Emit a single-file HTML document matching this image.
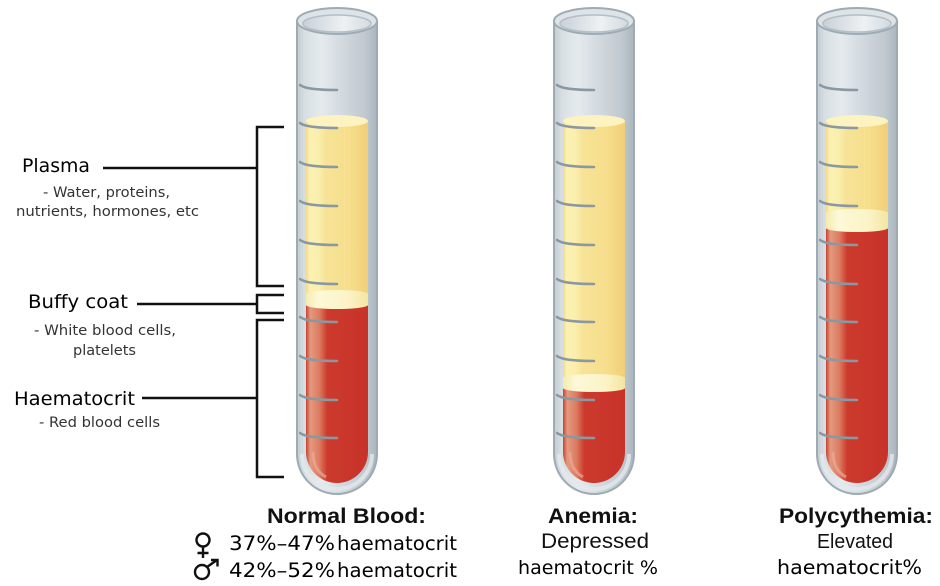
<!DOCTYPE html>
<html>
<head>
<meta charset="utf-8">
<style>
html,body{margin:0;padding:0;background:#fff;}
svg{display:block;}
.lbl{font-family:"DejaVu Sans","Liberation Sans",sans-serif;fill:#000;}
.sub{font-family:"DejaVu Sans","Liberation Sans",sans-serif;fill:#333;font-size:14px;}
.hb{font-family:"Liberation Sans",Arial,sans-serif;font-weight:bold;fill:#111;}
.hr{font-family:"Liberation Sans",Arial,sans-serif;fill:#111;}
</style>
</head>
<body>
<svg width="940" height="586" viewBox="0 0 940 586" xmlns="http://www.w3.org/2000/svg">
<defs>
  <linearGradient id="glass" x1="0" x2="1" y1="0" y2="0">
    <stop offset="0" stop-color="#c3ccd2"/>
    <stop offset="0.1" stop-color="#d8dfe3"/>
    <stop offset="0.3" stop-color="#e5eaed"/>
    <stop offset="0.55" stop-color="#d3dae0"/>
    <stop offset="0.85" stop-color="#c0c9cf"/>
    <stop offset="1" stop-color="#a9b5bd"/>
  </linearGradient>
  <linearGradient id="opening" x1="0" x2="1" y1="0" y2="0">
    <stop offset="0" stop-color="#c9d1d7"/>
    <stop offset="0.6" stop-color="#eef1f3"/>
    <stop offset="1" stop-color="#d3dadf"/>
  </linearGradient>
  <linearGradient id="yel" x1="0" x2="1" y1="0" y2="0">
    <stop offset="0" stop-color="#f2da86"/>
    <stop offset="0.06" stop-color="#fbf1b3"/>
    <stop offset="0.2" stop-color="#faefac"/>
    <stop offset="0.32" stop-color="#f7e397"/>
    <stop offset="0.7" stop-color="#f6de8c"/>
    <stop offset="1" stop-color="#f1cf78"/>
  </linearGradient>
  <linearGradient id="buf" x1="0" x2="1" y1="0" y2="0">
    <stop offset="0" stop-color="#f5eab0"/>
    <stop offset="0.2" stop-color="#fdf9d8"/>
    <stop offset="0.7" stop-color="#fbf3c6"/>
    <stop offset="1" stop-color="#f4e5a2"/>
  </linearGradient>
  <linearGradient id="red" x1="0" x2="1" y1="0" y2="0">
    <stop offset="0" stop-color="#c94030"/>
    <stop offset="0.07" stop-color="#e39a7e"/>
    <stop offset="0.22" stop-color="#dc7a60"/>
    <stop offset="0.34" stop-color="#cc3a2c"/>
    <stop offset="1" stop-color="#c8322a"/>
  </linearGradient>
  <clipPath id="liq"><path d="M10,0 V452 A31,31 0 0 0 72,452 V0 Z"/></clipPath>
  <g id="ticks" fill="none" stroke="#8a98a1" stroke-width="2.5" stroke-linecap="round">
    <path d="M4,85 Q10,90 41,90"/>
    <path d="M4,123 Q10,128 41,128"/>
    <path d="M4,162 Q10,167 41,167"/>
    <path d="M4,201 Q10,206 41,206"/>
    <path d="M4,240 Q10,245 41,245"/>
    <path d="M4,279 Q10,284 41,284"/>
    <path d="M4,317 Q10,322 41,322"/>
    <path d="M4,356 Q10,361 41,361"/>
    <path d="M4,395 Q10,400 41,400"/>
    <path d="M4,433 Q10,438 41,438"/>
  </g>
  <g id="body">
    <path d="M1,21 V454 A40,40 0 0 0 81,454 V21 Z" fill="url(#glass)" stroke="#9eabb3" stroke-width="2"/>
    <path d="M6,454 A35,35 0 0 0 76,454" fill="none" stroke="#e3e9ec" stroke-width="4" opacity="0.8"/>
  </g>
  <g id="rim">
    <ellipse cx="41" cy="21" rx="40" ry="13" fill="#dde3e7" stroke="#9eabb3" stroke-width="2"/>
    <ellipse cx="41" cy="23.5" rx="34" ry="8.5" fill="url(#opening)" stroke="#b3bec5" stroke-width="1.5"/>
  </g>
</defs>

<!-- Tube 1: Normal -->
<g transform="translate(296,0)">
  <use href="#body"/>
  <g clip-path="url(#liq)">
    <rect x="10" y="121" width="62" height="190" fill="url(#yel)"/>
    <ellipse cx="41" cy="121" rx="31" ry="6" fill="#fcf3c0"/>
    <rect x="10" y="294" width="62" height="11" fill="url(#buf)"/>
    <ellipse cx="41" cy="294" rx="31" ry="4" fill="url(#buf)"/>
    <rect x="10" y="305" width="62" height="190" fill="url(#red)"/>
    <path d="M10,305 A31,4 0 0 0 72,305 Z" fill="url(#buf)"/>
    <path d="M17,452 Q17,470 30,477" fill="none" stroke="#eba894" stroke-width="3" opacity="0.7"/>
  </g>
  <use href="#rim"/>
  <use href="#ticks"/>
</g>

<!-- Tube 2: Anemia -->
<g transform="translate(553,0)">
  <use href="#body"/>
  <g clip-path="url(#liq)">
    <rect x="10" y="121" width="62" height="270" fill="url(#yel)"/>
    <ellipse cx="41" cy="121" rx="31" ry="6" fill="#fcf3c0"/>
    <rect x="10" y="378" width="62" height="10" fill="url(#buf)"/>
    <ellipse cx="41" cy="378" rx="31" ry="4" fill="url(#buf)"/>
    <rect x="10" y="388" width="62" height="110" fill="url(#red)"/>
    <path d="M10,388 A31,4 0 0 0 72,388 Z" fill="url(#buf)"/>
    <path d="M17,452 Q17,470 30,477" fill="none" stroke="#eba894" stroke-width="3" opacity="0.7"/>
  </g>
  <use href="#rim"/>
  <use href="#ticks"/>
</g>

<!-- Tube 3: Polycythemia -->
<g transform="translate(816,0)">
  <use href="#body"/>
  <g clip-path="url(#liq)">
    <rect x="10" y="121" width="62" height="110" fill="url(#yel)"/>
    <ellipse cx="41" cy="121" rx="31" ry="6" fill="#fcf3c0"/>
    <rect x="10" y="213" width="62" height="15" fill="url(#buf)"/>
    <ellipse cx="41" cy="213" rx="31" ry="4" fill="url(#buf)"/>
    <rect x="10" y="228" width="62" height="270" fill="url(#red)"/>
    <path d="M10,228 A31,4 0 0 0 72,228 Z" fill="url(#buf)"/>
    <path d="M17,452 Q17,470 30,477" fill="none" stroke="#eba894" stroke-width="3" opacity="0.7"/>
  </g>
  <use href="#rim"/>
  <use href="#ticks"/>
</g>

<!-- Brackets -->
<g fill="none" stroke="#111" stroke-width="2.5">
  <path d="M284,127 H257 V286 H284"/>
  <path d="M103,168 H257"/>
  <path d="M284,295 H257 V313 H284"/>
  <path d="M137,304 H257"/>
  <path d="M284,320 H257 V477 H284"/>
  <path d="M142,398 H257"/>
</g>

<!-- Left labels -->
<text class="lbl" x="22" y="172" font-size="19" textLength="68" lengthAdjust="spacingAndGlyphs">Plasma</text>
<text class="sub" x="43" y="197" textLength="127" lengthAdjust="spacingAndGlyphs">- Water, proteins,</text>
<text class="sub" x="16" y="216" textLength="183" lengthAdjust="spacingAndGlyphs">nutrients, hormones, etc</text>
<text class="lbl" x="28" y="308" font-size="19" textLength="100" lengthAdjust="spacingAndGlyphs">Buffy coat</text>
<text class="sub" x="34" y="335" textLength="142" lengthAdjust="spacingAndGlyphs">- White blood cells,</text>
<text class="sub" x="73" y="355" textLength="63" lengthAdjust="spacingAndGlyphs">platelets</text>
<text class="lbl" x="14" y="405" font-size="19" textLength="121" lengthAdjust="spacingAndGlyphs">Haematocrit</text>
<text class="sub" x="39" y="427" textLength="121" lengthAdjust="spacingAndGlyphs">- Red blood cells</text>

<!-- Normal blood caption -->
<text class="hb" x="267" y="523" font-size="21.5" textLength="159" lengthAdjust="spacingAndGlyphs">Normal Blood:</text>
<g fill="none" stroke="#111" stroke-width="2.4">
  <circle cx="203" cy="540" r="6.5"/>
  <path d="M203,546.5 V558 M197.5,553 H208.5"/>
  <circle cx="202" cy="572" r="7"/>
  <path d="M207,567 L217,560 M211,560 H217.5 V566.5"/>
</g>
<text class="lbl" x="229" y="550" font-size="19.5"><tspan textLength="106" lengthAdjust="spacingAndGlyphs">37%–47%</tspan><tspan x="337" textLength="120" lengthAdjust="spacingAndGlyphs">haematocrit</tspan></text>
<text class="lbl" x="229" y="577" font-size="19.5"><tspan textLength="106" lengthAdjust="spacingAndGlyphs">42%–52%</tspan><tspan x="337" textLength="120" lengthAdjust="spacingAndGlyphs">haematocrit</tspan></text>

<!-- Anemia caption -->
<text class="hb" x="548" y="523" font-size="21.5" textLength="90" lengthAdjust="spacingAndGlyphs">Anemia:</text>
<text class="hr" x="541" y="548" font-size="21.5" textLength="108" lengthAdjust="spacingAndGlyphs">Depressed</text>
<text class="lbl" x="518" y="574" font-size="19" textLength="140" lengthAdjust="spacingAndGlyphs">haematocrit %</text>

<!-- Polycythemia caption -->
<text class="hb" x="779" y="523" font-size="21.5" textLength="154" lengthAdjust="spacingAndGlyphs">Polycythemia:</text>
<text class="hr" x="817" y="548" font-size="20" textLength="76" lengthAdjust="spacingAndGlyphs">Elevated</text>
<text class="lbl" x="777" y="574" font-size="19.5" textLength="145" lengthAdjust="spacingAndGlyphs">haematocrit%</text>
</svg>
</body>
</html>
